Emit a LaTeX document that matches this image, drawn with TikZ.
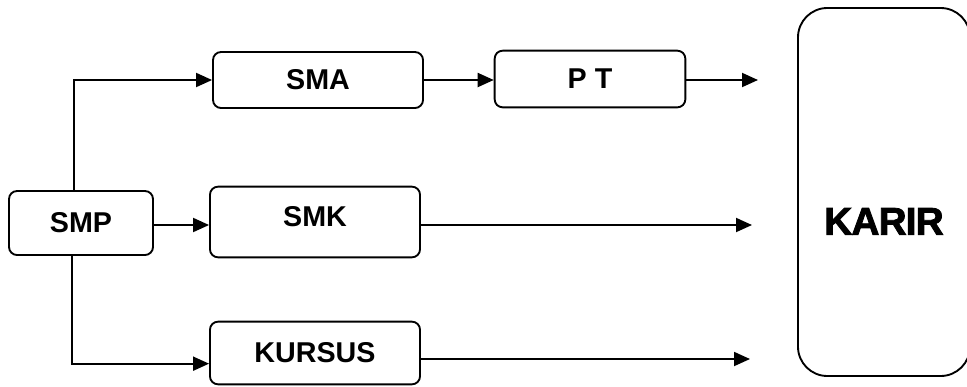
\documentclass[tikz,border=0pt]{standalone}
\usepackage{fontspec}
\setmainfont{Liberation Sans}
\newfontfamily\heavyfont[FakeBold=2.2, LetterSpace=-2]{Liberation Sans Bold}
\usetikzlibrary{arrows.meta}

\begin{document}
\begin{tikzpicture}[
            x=0.75pt,
            y=-0.75pt,
            box/.style={draw, line width=1.4pt, rounded corners=6pt, inner sep=0pt,
                font=\fontsize{21.5}{25}\selectfont\bfseries},
            arr/.style={line width=1.4pt, -{Triangle[length=12pt,width=10.5pt]}}
        ]

        \useasboundingbox (0,0) rectangle (967,386);

        % schools
        \node[box, minimum width=108pt, minimum height=48pt] (smp) at (81,223) {SMP};
        \node[box, minimum width=157.5pt, minimum height=42pt] (sma) at (318,80) {SMA};
        \node[box, minimum width=157.5pt, minimum height=53pt, text depth=8pt] (smk) at (315,222) {SMK};
        \node[box, minimum width=157.5pt, minimum height=47pt] (kursus) at (315,353) {KURSUS};
        \node[box, minimum width=143pt, minimum height=42.5pt] (pt) at (590,79) {P T};

        % goal
        \node[box, rounded corners=22pt, minimum width=129pt, minimum height=276pt,
            text height=64pt, text depth=0pt,
            font=\fontsize{29}{34}\heavyfont] (karir) at (884,192) {KARIR};

        % free ends
        \coordinate (e1) at (758,80);
        \coordinate (e2) at (752,225);
        \coordinate (e3) at (750,359);

        % from SMP
        \draw[arr] ([xshift=-5.25pt]smp.north) |- (sma.west);
        \draw[arr] ([yshift=-1.5pt]smp.east) -- ([yshift=-1.5pt]smp.east -| smk.west);
        \draw[arr] ([xshift=-6.75pt]smp.south) |- ([yshift=-8pt]kursus.west);

        % onwards
        \draw[arr] (sma.east) -- (sma.east -| pt.west);
        \draw[arr] (pt.east |- e1) -- (e1);
        \draw[arr] (smk.east |- e2) -- (e2);
        \draw[arr] (kursus.east |- e3) -- (e3);

        \end{tikzpicture}
\end{document}
